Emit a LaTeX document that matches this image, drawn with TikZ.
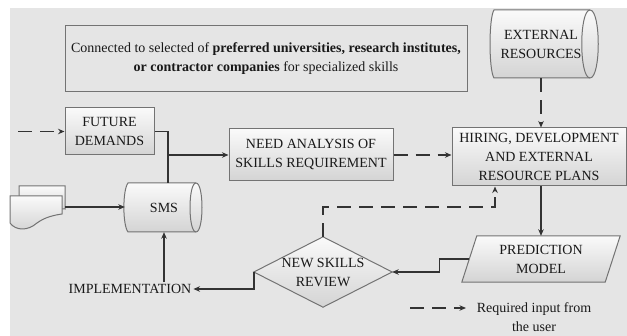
\documentclass[tikz,border=0pt]{standalone}
\usepackage{fontspec}
\setmainfont{Liberation Serif}
\usetikzlibrary{arrows.meta,calc}
\newcommand\bx{\fontsize{14}{19}\selectfont}
\begin{document}
\begin{tikzpicture}[x=1pt,y=-1pt,
  conn/.style={draw=black!80,line width=1.5pt},
  arr/.style={conn,-{Stealth[length=6.5pt,width=5.5pt]}},
  dsh/.style={dash pattern=on 14pt off 8pt},
  outl/.style={draw=black!55,line width=1pt},
  shd/.style={outl,top color=black!2,bottom color=black!17},
  box/.style={shd,rectangle,inner sep=0pt,align=center,font=\bx,text=black!90},
  lbl/.style={font=\bx,align=center,text=black!90,inner sep=2pt},
]
\useasboundingbox (0,0) rectangle (627,336);
\fill[black!10] (10,8) rectangle (627,336);

% top note box
\node[outl,minimum width=402,minimum height=66,align=center,font=\bx,text=black!90] (note) at (266,59)
  {Connected to selected of \textbf{preferred universities, research institutes,}\\
   \textbf{or contractor companies} for specialized skills};

% boxes
\node[box,minimum width=89,minimum height=47] (fd) at (109.5,131.5) {FUTURE\\DEMANDS};
\node[box,minimum width=164,minimum height=52] (need) at (311,155) {NEED ANALYSIS OF\\SKILLS REQUIREMENT};
\node[box,minimum width=174,minimum height=58] (hire) at (539,157) {HIRING, DEVELOPMENT\\AND EXTERNAL\\RESOURCE PLANS};

% external resources cylinder
\path[shd] (494,10) -- (590,10) .. controls (601,10) and (601,78) .. (590,78) -- (494,78)
  .. controls (488.7,70) and (488.7,18) .. (494,10) -- cycle;
\draw[outl] (590,10) .. controls (579,10) and (579,78) .. (590,78);
\node[lbl,minimum width=102,minimum height=68,inner sep=0pt] (ext) at (541,44) {EXTERNAL\\RESOURCES};

% SMS cylinder
\path[shd] (128,183) -- (196,183) .. controls (204,183) and (204,232) .. (196,232) -- (128,232)
  .. controls (122.5,225) and (122.5,190) .. (128,183) -- cycle;
\draw[outl] (196,183) .. controls (188,183) and (188,232) .. (196,232);
\node[lbl,minimum width=78,minimum height=49,inner sep=0pt] (sms) at (164,207.5) {SMS};

% documents icon
\path[shd] (19,196) -- (19,186) -- (65,186) -- (65,209) .. controls (58,208) and (54,210) .. (50,212) -- (40,212) -- cycle;
\path[shd] (10,196) -- (62,196) -- (62,214) .. controls (55,215) and (45,217) .. (37,223)
  .. controls (28,231) and (16,231) .. (10,223) -- cycle;
\node[minimum width=55,minimum height=43,inner sep=0pt] (docs) at (37.5,207) {};

% prediction model
\node[lbl,minimum width=143,minimum height=46,inner sep=0pt] (pred) at (541,259) {};
\path[shd] ($(pred.north west)+(7.5,0)$) -- ($(pred.north east)+(7.5,0)$)
  -- ($(pred.south east)+(-7.5,0)$) -- ($(pred.south west)+(-7.5,0)$) -- cycle;
\node[lbl,minimum width=143,minimum height=46,inner sep=0pt] at (pred) {PREDICTION\\MODEL};

% new skills review diamond
\node[minimum width=138,minimum height=70,inner sep=0pt] (rev) at (323,272) {};
\path[shd] (rev.west) -- (rev.north) -- (rev.east) -- (rev.south) -- cycle;
\node[lbl] at (rev) {NEW SKILLS\\REVIEW};

% implementation
\node[lbl] (impl) at (130,289) {IMPLEMENTATION};

% connectors
\coordinate (fin) at (18,131.5);
\coordinate (j) at (168,155);
\coordinate (k) at (495,207);
\draw[arr,dsh] (fin) -- (fd.west);
\draw[conn] (fd.east) -| (j |- sms.north);
\draw[arr] (j) -- (need.west);
\draw[arr] (docs.east) -- (docs.east -| sms.west);
\draw[arr] (impl.north -| sms.south) -- (sms.south);
\draw[arr,dsh] (need.east) -- (need.east -| hire.west);
\draw[arr,dsh] (ext.south) -- (ext.south |- hire.north);
\draw[arr] (pred.north |- hire.south) -- (pred.north);
\draw[arr] (pred.west) -- ++(-30,0) |- (rev.east);
\draw[arr] (rev.west) |- (impl.east);
\draw[arr,dsh] (rev.north) |- (k) -- (k |- hire.south);

% legend
\coordinate (lg1) at (410,308);
\coordinate (lg2) at (466,308);
\draw[arr,dsh] (lg1) -- (lg2);
\node[lbl] (leg) at (534,317) {Required input from\\the user};
\end{tikzpicture}
\end{document}
